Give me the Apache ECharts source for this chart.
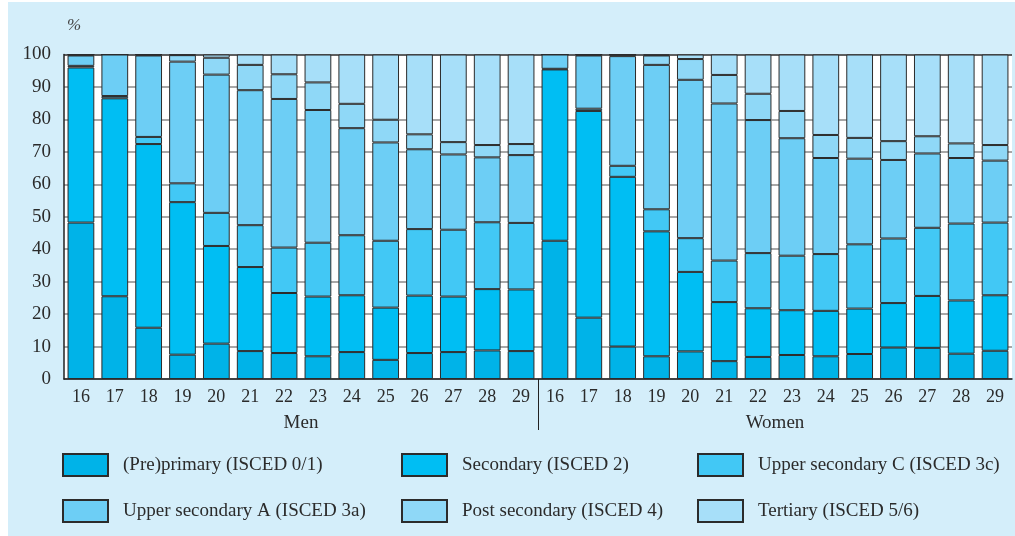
<!DOCTYPE html>
<html>
<head>
<meta charset="utf-8">
<script src="https://cdn.jsdelivr.net/npm/echarts@6/dist/echarts.min.js"></script>
<style>
html,body{margin:0;padding:0;background:#fff;}
#chart{width:1015px;height:536px;}
</style>
</head>
<body>
<div id="chart"></div>
<script>
// Ages shown on the axis (for both groups) and the group labels
const ages = ['16','17','18','19','20','21','22','23','24','25','26','27','28','29'];
const groups = ['Men','Women'];
const levelNames = ['(Pre)primary (ISCED 0/1)','Secondary (ISCED 2)','Upper secondary C (ISCED 3c)',
  'Upper secondary A (ISCED 3a)','Post secondary (ISCED 4)','Tertiary (ISCED 5/6)'];

// Values (%) — first 14 = Men ages 16..29, next 14 = Women ages 16..29
const preprimary = [48.2,25.5,15.8,7.5,10.9,8.6,8.0,7.0,8.3,5.9,8.0,8.3,8.8,8.6,
                    42.6,18.9,10.0,7.0,8.5,5.5,6.8,7.4,7.0,7.7,9.7,9.6,7.8,8.7];
const secondary  = [47.8,61.0,56.6,47.0,30.1,25.9,18.5,18.4,17.5,16.1,17.7,17.1,18.9,19.0,
                    52.8,63.7,52.3,38.5,24.5,18.2,15.0,13.8,14.0,14.0,13.7,16.0,16.4,17.1];
const upperSecC  = [0.5,0.7,2.2,5.8,10.2,12.9,14.0,16.6,18.5,20.6,20.5,20.6,20.6,20.5,
                    0.2,0.7,3.4,6.8,10.4,12.8,17.0,16.8,17.5,19.8,19.9,21.0,23.7,22.4];
const upperSecA  = [3.2,12.8,25.1,37.5,42.6,41.6,45.8,40.9,33.0,30.3,24.6,23.2,20.0,20.9,
                    4.4,16.4,33.8,44.5,48.8,48.4,41.0,36.2,29.6,26.4,24.2,22.9,20.2,19.1];
const postSec    = [0.3,0,0.3,2.0,5.2,7.8,7.6,8.5,7.5,7.0,4.6,3.8,3.8,3.4,
                    0,0.3,0.5,2.9,6.4,8.8,8.1,8.4,7.1,6.4,5.8,5.3,4.5,4.8];
const tertiary   = [0,0,0,0.2,1.0,3.2,6.1,8.6,15.2,20.1,24.6,27.0,27.9,27.6,
                    0,0,0,0.3,1.4,6.3,12.1,17.4,24.8,25.7,26.7,25.2,27.4,27.9];
const yTicks = [0,10,20,30,40,50,60,70,80,90,100];

const colors = ['#00b3e8','#00bef3','#42c8f5','#6dcef5','#8fd8f7','#a7dff9'];
const seriesData = [preprimary, secondary, upperSecC, upperSecA, postSec, tertiary];

// unique category keys (group + age), labels show the age only
const categories = [];
groups.forEach(g => ages.forEach(a => categories.push(g + '|' + a)));

const FONT = 'Liberation Serif';
const TXT = '#2b2b2b';

const chart = echarts.init(document.getElementById('chart'), null, {renderer:'canvas'});

const gridLineColors = yTicks.map((v,i) => i === yTicks.length - 1 ? '#2b2b2b' : '#8a8a8a');

const option = {
  backgroundColor: '#d4eefa',
  animation: false,
  graphic: [
    {type:'rect', left:0, top:0, shape:{width:8, height:536}, style:{fill:'#ffffff'}, silent:true},
    {type:'rect', left:0, top:0, shape:{width:1015, height:2}, style:{fill:'#ffffff'}, silent:true}
  ],
  grid: {left:64, right:3, top:54.5, bottom:157, show:true, backgroundColor:'#ffffff', borderWidth:0},
  legend: [
    {data:[levelNames[0], levelNames[3]], left:62, top:453},
    {data:[levelNames[1], levelNames[4]], left:401, top:453},
    {data:[levelNames[2], levelNames[5]], left:697, top:453}
  ].map(l => Object.assign(l, {
    orient:'vertical', padding:0, itemGap:22, itemWidth:45, itemHeight:22, icon:'rect',
    selectedMode:false,
    textStyle:{fontFamily:FONT, fontSize:19, color:TXT, padding:[2,0,0,10]}
  })),
  xAxis: [
    {
      type:'category', data:categories, boundaryGap:true,
      axisLine:{show:true, lineStyle:{color:'#222', width:1.5}},
      axisTick:{show:false},
      axisLabel:{interval:0, margin:9, fontFamily:FONT, fontSize:18, color:TXT,
        formatter:(v) => v.split('|')[1]},
      splitLine:{show:false}
    },
    {
      type:'category', data:groups, position:'bottom', offset:26, gridIndex:0,
      axisLine:{show:false}, axisTick:{show:false},
      axisLabel:{interval:0, margin:9, fontFamily:FONT, fontSize:19, color:TXT}
    },
    {
      // separator between the Men and Women groups (at the boundary after 14 bars)
      type:'value', min:0, max:categories.length, position:'bottom', gridIndex:0,
      axisLine:{show:false}, axisLabel:{show:false}, splitLine:{show:false},
      axisTick:{show:true, customValues:[ages.length], length:51, lineStyle:{color:'#222', width:1}}
    }
  ],
  yAxis: {
    type:'value', min:0, max:100, interval:10,
    name:'%', nameLocation:'end', nameGap:20,
    nameTextStyle:{fontFamily:FONT, fontSize:17, fontStyle:'italic', color:'#444', align:'left', padding:[0,0,0,3]},
    axisLine:{show:true, lineStyle:{color:'#222', width:1.5}},
    axisTick:{show:false},
    axisLabel:{margin:13, fontFamily:FONT, fontSize:19, color:TXT},
    splitLine:{show:true, lineStyle:{color:gridLineColors, width:1.5}}
  },
  series: seriesData.map((d,i) => ({
    name: levelNames[i], type:'bar', stack:'total', data:d,
    barCategoryGap:'21%',
    itemStyle:{color:colors[i], borderColor:'#2b2b2b', borderWidth:1},
    emphasis:{disabled:true}
  }))
};
chart.setOption(option);
</script>
</body>
</html>
